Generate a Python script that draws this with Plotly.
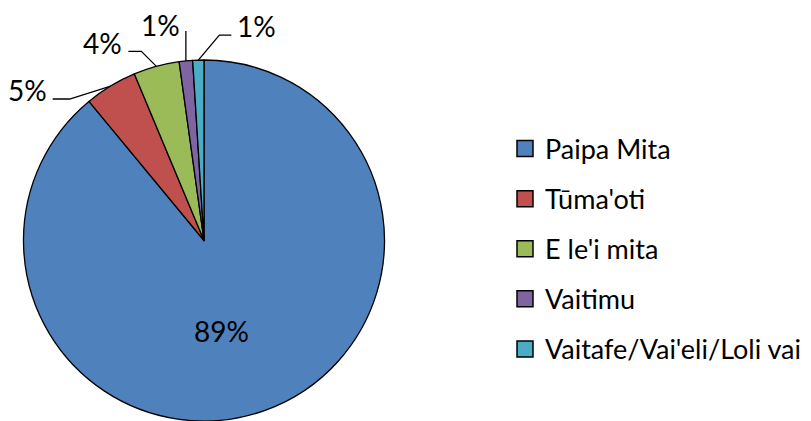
import math
import plotly.graph_objects as go

labels = ["Paipa Mita", "Tūma'oti", "E le'i mita", "Vaitimu", "Vaitafe/Vai'eli/Loli vai"]
values = [89.0, 4.7, 4.1, 1.2, 1.0]
colors = ["#4F81BD", "#C0504D", "#9BBB59", "#8064A2", "#4BACC6"]

OFF = 8  # page body margin
W, H = 811 - OFF, 421 - OFF
FONT = "Lato"

# pie geometry (window pixels)
cx, cy, r = 204.0, 240.5, 180.5
dom_x = [(cx - OFF - r) / W, (cx - OFF + r) / W]
dom_y = [max(0.0, 1 - (cy - OFF + r) / H), 1 - (cy - OFF - r) / H]

def P(px, py):
    return (px - OFF) / W, 1 - (py - OFF) / H

fig = go.Figure()
fig.add_trace(go.Pie(
    labels=labels, values=values, sort=False, direction="clockwise", rotation=0,
    marker=dict(colors=colors, line=dict(color="black", width=1.3)),
    textinfo="none", showlegend=False, domain=dict(x=dom_x, y=dom_y),
    hoverinfo="label+percent",
))

# legend via dummy square markers
for lab, col in zip(labels, colors):
    fig.add_trace(go.Scatter(
        x=[None], y=[None], mode="markers", name=lab, legendgroup=lab,
        marker=dict(symbol="square", size=16, color=col, line=dict(color="black", width=1.5)),
    ))

total = sum(values)
pct = [round(v / total * 100) for v in values]

# label styles: (elbow dx, dy), (end dx, dy), text offset from end, anchor
styles = [
    None,
    ((-41, 13), (-58, 13), (-4, -9), "right"),
    ((-15, -15), (-28, -15), (-4, -8), "right"),
    ((0, -30), (0, -30), (-4, -6), "right"),
    ((21, -25), (33, -25), (4, -9), "left"),
]

shapes = []
annotations = []
cum = 0.0
for i, v in enumerate(values):
    ang = (cum + v / 2) / total * 2 * math.pi
    cum += v
    ax = cx + r * math.sin(ang)
    ay = cy - r * math.cos(ang)
    txt = f"{pct[i]}%"
    if styles[i] is None:
        rr = 0.51 * r
        a2 = ang + math.radians(9)
        tx, ty = P(cx + rr * math.sin(a2), cy - rr * math.cos(a2))
        annotations.append(dict(x=tx, y=ty, xref="paper", yref="paper", text=txt,
                                showarrow=False, xanchor="center", yanchor="middle",
                                font=dict(family=FONT, size=28, color="black")))
        continue
    (edx, edy), (ndx, ndy), (tdx, tdy), anc = styles[i]
    p0 = P(ax, ay)
    p1 = P(ax + edx, ay + edy)
    p2 = P(ax + ndx, ay + ndy)
    shapes.append(dict(type="path", xref="paper", yref="paper",
                       path=f"M {p0[0]} {p0[1]} L {p1[0]} {p1[1]} L {p2[0]} {p2[1]}",
                       line=dict(color="black", width=1.3)))
    tx, ty = P(ax + ndx + tdx, ay + ndy + tdy)
    annotations.append(dict(x=tx, y=ty, xref="paper", yref="paper", text=txt,
                            showarrow=False, xanchor=anc, yanchor="middle",
                            font=dict(family=FONT, size=28, color="black")))

fig.update_layout(
    width=W, height=H,
    margin=dict(l=0, r=0, t=0, b=0),
    paper_bgcolor="white", plot_bgcolor="white",
    xaxis=dict(visible=False), yaxis=dict(visible=False),
    shapes=shapes, annotations=annotations,
    legend=dict(x=(505 - OFF) / W, xanchor="left", y=1 - (249 - OFF) / H, yanchor="middle",
                font=dict(family=FONT, size=27, color="black"),
                tracegroupgap=12, bgcolor="rgba(0,0,0,0)"),
    font=dict(family=FONT),
)

fig.write_html("out.html")
